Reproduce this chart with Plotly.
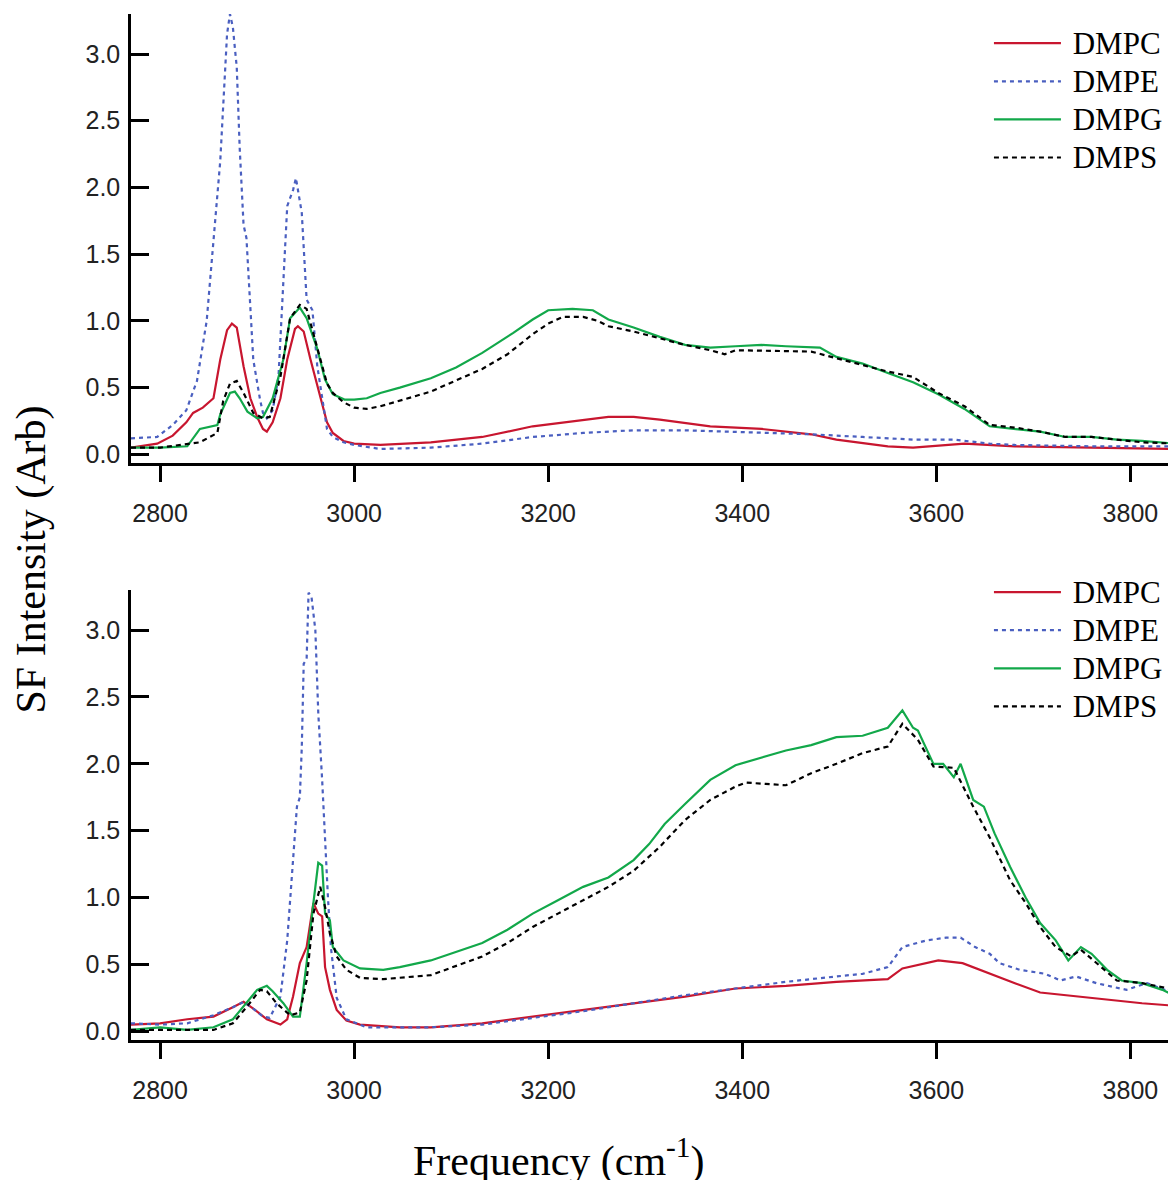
import plotly.graph_objects as go

### SFG spectra (frequency in cm-1, intensity arb.)
# top panel
top_pc_x = [2770, 2797, 2813, 2827, 2834, 2844, 2855, 2862, 2869, 2874, 2879, 2886, 2893, 2900, 2906, 2910,
            2916, 2924, 2931, 2939, 2942, 2948, 2955, 2965, 2972, 2978, 2989, 3000, 3027, 3079, 3132, 3184,
            3236, 3262, 3288, 3315, 3367, 3420, 3471, 3497, 3550, 3576, 3629, 3681, 3760, 3847]
top_pc_y = [0.05, 0.08, 0.14, 0.24, 0.31, 0.35, 0.42, 0.71, 0.93, 0.98, 0.95, 0.66, 0.42, 0.28, 0.19, 0.17,
            0.24, 0.42, 0.71, 0.94, 0.96, 0.92, 0.71, 0.42, 0.24, 0.16, 0.10, 0.08, 0.07, 0.09, 0.13, 0.21,
            0.26, 0.28, 0.28, 0.26, 0.21, 0.19, 0.15, 0.11, 0.06, 0.05, 0.08, 0.06, 0.05, 0.04]

top_pe_x = [2770, 2797, 2813, 2827, 2838, 2848, 2855, 2862, 2869, 2872, 2875, 2879, 2882, 2886, 2889, 2892,
            2896, 2903, 2906, 2910, 2916, 2922, 2927, 2931, 2937, 2940, 2946, 2951, 2957, 2962, 2972, 2978,
            2989, 3000, 3027, 3079, 3132, 3184, 3236, 3288, 3341, 3393, 3420, 3471, 3524, 3576, 3618, 3655,
            3681, 3760, 3847]
top_pe_y = [0.12, 0.13, 0.22, 0.33, 0.55, 1.00, 1.60, 2.20, 3.15, 3.30, 3.20, 2.90, 2.30, 1.72, 1.62, 1.20,
            0.71, 0.41, 0.31, 0.27, 0.33, 0.58, 1.29, 1.86, 1.98, 2.07, 1.81, 1.16, 1.08, 0.66, 0.19, 0.13,
            0.09, 0.07, 0.04, 0.05, 0.08, 0.13, 0.16, 0.18, 0.18, 0.17, 0.16, 0.15, 0.13, 0.11, 0.11, 0.08,
            0.07, 0.06, 0.06]

top_pg_x = [2770, 2800, 2828, 2841, 2859, 2862, 2872, 2877, 2882, 2890, 2900, 2906, 2916, 2927, 2934, 2944,
            2951, 2962, 2970, 2978, 2990, 3000, 3013, 3027, 3047, 3079, 3105, 3132, 3164, 3184, 3200, 3225,
            3246, 3262, 3288, 3315, 3341, 3367, 3393, 3420, 3445, 3480, 3497, 3524, 3550, 3576, 3602, 3629,
            3655, 3681, 3707, 3733, 3760, 3786, 3812, 3847]
top_pg_y = [0.05, 0.05, 0.06, 0.19, 0.22, 0.30, 0.46, 0.47, 0.42, 0.32, 0.27, 0.28, 0.42, 0.71, 1.02, 1.10,
            1.02, 0.79, 0.56, 0.45, 0.41, 0.41, 0.42, 0.46, 0.50, 0.57, 0.65, 0.76, 0.91, 1.01, 1.08, 1.09,
            1.08, 1.01, 0.95, 0.88, 0.82, 0.80, 0.81, 0.82, 0.81, 0.80, 0.73, 0.68, 0.61, 0.54, 0.45, 0.34,
            0.21, 0.19, 0.17, 0.13, 0.13, 0.11, 0.10, 0.08]

top_ps_x = [2770, 2800, 2841, 2859, 2865, 2872, 2879, 2886, 2896, 2906, 2913, 2924, 2934, 2944, 2951, 2962,
            2972, 2978, 2989, 3000, 3013, 3027, 3079, 3132, 3158, 3184, 3200, 3215, 3236, 3251, 3262, 3288,
            3315, 3341, 3367, 3382, 3393, 3445, 3471, 3497, 3524, 3550, 3576, 3602, 3629, 3655, 3681, 3707,
            3733, 3760, 3786, 3812, 3847]
top_ps_y = [0.05, 0.05, 0.09, 0.16, 0.40, 0.53, 0.55, 0.46, 0.31, 0.27, 0.28, 0.58, 1.02, 1.12, 1.09, 0.80,
            0.53, 0.46, 0.39, 0.35, 0.34, 0.36, 0.47, 0.64, 0.75, 0.90, 0.98, 1.03, 1.03, 1.00, 0.96, 0.92,
            0.87, 0.82, 0.78, 0.75, 0.78, 0.77, 0.77, 0.72, 0.67, 0.62, 0.58, 0.46, 0.36, 0.22, 0.20, 0.17,
            0.13, 0.13, 0.11, 0.09, 0.08]

# bottom panel
bot_pc_x = [2770, 2800, 2828, 2855, 2875, 2886, 2896, 2910, 2924, 2931, 2937, 2944, 2951, 2958, 2963, 2967,
            2970, 2975, 2982, 2992, 3006, 3047, 3079, 3132, 3184, 3236, 3288, 3341, 3393, 3445, 3497, 3550,
            3565, 3602, 3627, 3655, 3681, 3707, 3760, 3812, 3847]
bot_pc_y = [0.05, 0.06, 0.09, 0.11, 0.18, 0.22, 0.17, 0.09, 0.05, 0.09, 0.26, 0.51, 0.63, 0.96, 0.88, 0.86,
            0.48, 0.31, 0.16, 0.08, 0.05, 0.03, 0.03, 0.06, 0.11, 0.16, 0.21, 0.26, 0.32, 0.34, 0.37, 0.39,
            0.47, 0.53, 0.51, 0.43, 0.36, 0.29, 0.25, 0.21, 0.19]

bot_pe_x = [2770, 2800, 2828, 2855, 2875, 2886, 2896, 2906, 2913, 2924, 2931, 2937, 2941, 2944, 2946, 2948,
            2951, 2953, 2956, 2960, 2963, 2967, 2970, 2973, 2976, 2982, 2992, 3013, 3047, 3079, 3132, 3184,
            3236, 3288, 3341, 3393, 3445, 3497, 3524, 3550, 3565, 3590, 3610, 3625, 3640, 3655, 3665, 3686,
            3712, 3728, 3744, 3765, 3796, 3817, 3847]
bot_pe_y = [0.06, 0.05, 0.06, 0.12, 0.18, 0.22, 0.17, 0.11, 0.10, 0.26, 0.68, 1.26, 1.68, 1.75, 2.12, 2.75,
            2.78, 3.28, 3.25, 3.00, 2.38, 1.88, 1.38, 1.00, 0.63, 0.25, 0.09, 0.03, 0.03, 0.03, 0.05, 0.10,
            0.15, 0.21, 0.27, 0.32, 0.37, 0.41, 0.43, 0.48, 0.63, 0.68, 0.70, 0.70, 0.63, 0.58, 0.51, 0.46,
            0.43, 0.38, 0.41, 0.36, 0.31, 0.36, 0.28]

bot_pg_x = [2770, 2800, 2828, 2855, 2875, 2889, 2900, 2910, 2916, 2927, 2937, 2944, 2951, 2958, 2963, 2967,
            2970, 2975, 2978, 2989, 3006, 3030, 3047, 3079, 3132, 3158, 3184, 3210, 3236, 3262, 3288, 3304,
            3320, 3341, 3367, 3393, 3420, 3445, 3471, 3497, 3524, 3550, 3565, 3576, 3581, 3597, 3607, 3618,
            3625, 3638, 3649, 3660, 3676, 3692, 3707, 3723, 3736, 3749, 3760, 3776, 3791, 3812, 3833, 3847]
bot_pg_y = [0.01, 0.03, 0.01, 0.03, 0.09, 0.21, 0.31, 0.34, 0.30, 0.21, 0.11, 0.11, 0.51, 0.96, 1.26, 1.24,
            0.88, 0.83, 0.63, 0.53, 0.47, 0.46, 0.48, 0.53, 0.66, 0.76, 0.88, 0.98, 1.08, 1.15, 1.28, 1.40,
            1.55, 1.70, 1.88, 1.99, 2.05, 2.10, 2.14, 2.20, 2.21, 2.27, 2.40, 2.27, 2.25, 2.00, 2.00, 1.90,
            2.00, 1.73, 1.68, 1.48, 1.23, 1.00, 0.81, 0.68, 0.53, 0.63, 0.58, 0.46, 0.38, 0.36, 0.31, 0.26]

bot_ps_x = [2770, 2800, 2855, 2875, 2889, 2903, 2910, 2920, 2934, 2944, 2951, 2958, 2965, 2970, 2975, 2982,
            2992, 3006, 3030, 3079, 3132, 3158, 3184, 3210, 3236, 3262, 3288, 3315, 3341, 3367, 3393, 3404,
            3424, 3445, 3471, 3497, 3524, 3550, 3565, 3581, 3597, 3618, 3638, 3655, 3676, 3692, 3707, 3723,
            3739, 3749, 3770, 3786, 3812, 3847]
bot_ps_y = [0.01, 0.01, 0.01, 0.06, 0.18, 0.31, 0.30, 0.21, 0.12, 0.14, 0.38, 0.88, 1.08, 0.93, 0.73, 0.56,
            0.46, 0.40, 0.39, 0.42, 0.56, 0.66, 0.78, 0.88, 0.98, 1.08, 1.20, 1.38, 1.58, 1.73, 1.83, 1.86,
            1.85, 1.84, 1.93, 2.00, 2.08, 2.13, 2.30, 2.18, 1.98, 1.97, 1.68, 1.45, 1.13, 0.96, 0.78, 0.63,
            0.56, 0.61, 0.48, 0.38, 0.36, 0.31]

names = ["DMPC", "DMPE", "DMPG", "DMPS"]
colors = ["#c8162f", "#4a5fc0", "#12a84a", "#000000"]
dashes = ["solid", "4px,4px", "solid", "5px,4px"]

top = [(top_pc_x, top_pc_y), (top_pe_x, top_pe_y), (top_pg_x, top_pg_y), (top_ps_x, top_ps_y)]
bot = [(bot_pc_x, bot_pc_y), (bot_pe_x, bot_pe_y), (bot_pg_x, bot_pg_y), (bot_ps_x, bot_ps_y)]

def legend_name(n):
    # bigger text than the legend row height would allow
    return '\u00a0<span style="font-size:31px">' + n + '</span>'

fig = go.Figure()
for i, (x, y) in enumerate(top):
    fig.add_trace(go.Scatter(x=x, y=y, name=legend_name(names[i]), mode="lines", xaxis="x", yaxis="y",
                             legend="legend", line=dict(color=colors[i], width=2.2, dash=dashes[i])))
for i, (x, y) in enumerate(bot):
    fig.add_trace(go.Scatter(x=x, y=y, name=legend_name(names[i]), mode="lines", xaxis="x2", yaxis="y2",
                             legend="legend2", line=dict(color=colors[i], width=2.2, dash=dashes[i])))

tickfont = dict(family="Liberation Sans, Arial", size=25, color="#222")
xcommon = dict(range=[2770, 3847], tickvals=[2800, 3000, 3200, 3400, 3600, 3800], ticks="outside",
               ticklen=16, tickwidth=2.5, tickcolor="black", showline=True, linecolor="black", linewidth=2.5,
               showgrid=False, zeroline=False, tickfont=tickfont, ticklabelstandoff=10)
ycommon = dict(range=[-0.065, 3.3], tickvals=[0, 0.5, 1, 1.5, 2, 2.5, 3], tickformat=".1f", ticks="inside",
               ticklen=18, tickwidth=2.5, tickcolor="black", showline=True, linecolor="black", linewidth=2.5,
               showgrid=False, zeroline=False, tickfont=tickfont, ticklabelstandoff=3)

legfont = dict(family="Liberation Serif, Times New Roman", size=27, color="black")
# the page body adds an 8px offset, so the figure is smaller and the margins shifted
fig.update_layout(
    width=1168, height=1172,
    margin=dict(l=123, r=0, t=6, b=140),
    plot_bgcolor="white", paper_bgcolor="white",
    xaxis=dict(domain=[0, 1], anchor="y", **xcommon),
    yaxis=dict(domain=[0.5624, 1], anchor="x", **ycommon),
    xaxis2=dict(domain=[0, 1], anchor="y2", **xcommon),
    yaxis2=dict(domain=[0, 0.4386], anchor="x2", **ycommon),
    legend=dict(x=0.821, y=0.995, xanchor="left", yanchor="top", font=legfont, bgcolor="rgba(0,0,0,0)",
                itemwidth=67, tracegroupgap=0),
    legend2=dict(x=0.821, y=0.46, xanchor="left", yanchor="top", font=legfont, bgcolor="rgba(0,0,0,0)",
                 itemwidth=67, tracegroupgap=0),
    annotations=[
        dict(text="SF Intensity (Arb)", xref="paper", yref="paper", x=-0.095, y=0.468, textangle=-90,
             showarrow=False, xanchor="center", yanchor="middle",
             font=dict(family="Liberation Serif, Times New Roman", size=42, color="black")),
        dict(text="Frequency (cm<sup>-1</sup>)", xref="paper", yref="paper", x=0.41, y=-0.115,
             showarrow=False, xanchor="center", yanchor="middle",
             font=dict(family="Liberation Serif, Times New Roman", size=42, color="black")),
    ],
)

fig.write_html("out.html")
